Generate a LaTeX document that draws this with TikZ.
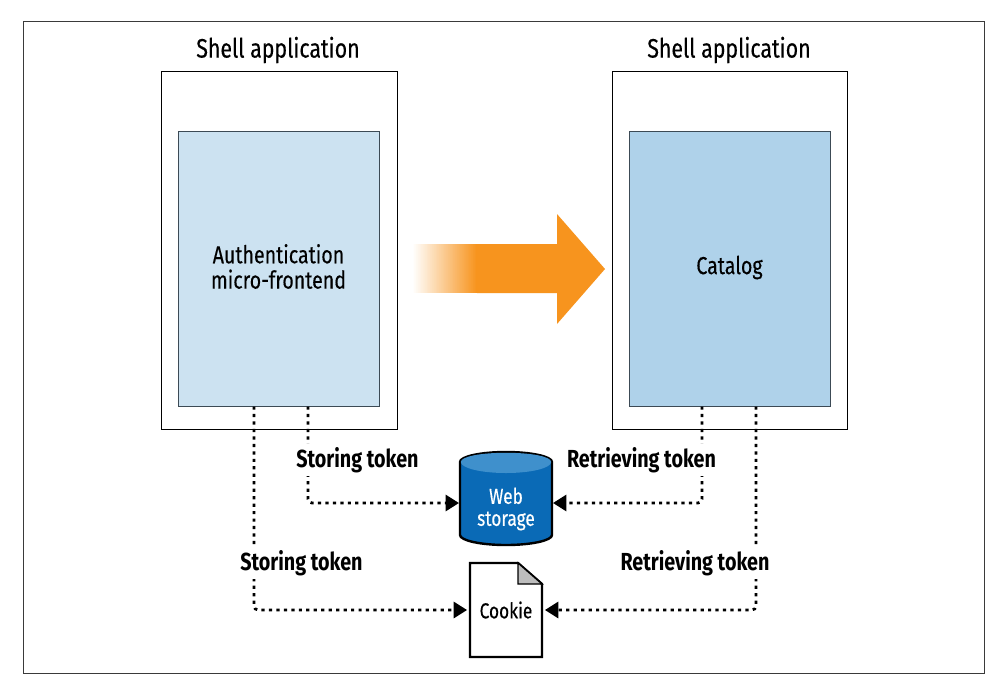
\documentclass[tikz,border=0pt]{standalone}
\usepackage{fontspec}
\setmainfont{Fira Sans}[FakeStretch=0.8,FakeBold=0.3,BoldFeatures={FakeBold=0}]
\usetikzlibrary{arrows.meta}
\definecolor{frameline}{HTML}{3A3A3A}
\definecolor{lightblue}{HTML}{CCE2F1}
\definecolor{midblue}{HTML}{AFD2EA}
\definecolor{boxedge}{HTML}{3C4A55}
\definecolor{cylbody}{HTML}{0A6AB6}
\definecolor{cyltop}{HTML}{3F90CC}
\definecolor{orangearrow}{HTML}{F7941E}
\definecolor{foldgray}{HTML}{BDBDBD}
\tikzset{
  x=0.75pt,y=-0.75pt,
  shellbox/.style={draw=black,line width=0.75pt,fill=white,anchor=north west,inner sep=0pt},
  innerbox/.style={draw=boxedge,line width=1pt,anchor=north west,inner sep=0pt},
  boxtext/.style={align=center,inner sep=0pt,font=\fontsize{18.4}{19}\selectfont},
  heading/.style={font=\fontsize{20}{22}\selectfont,inner sep=0pt},
  tokenlabel/.style={font=\fontsize{18.5}{19}\selectfont\bfseries,fill=white,inner sep=0pt,minimum height=24pt},
  dotted link/.style={line width=2.1pt,black,dash pattern=on 2.4pt off 3.2pt,rounded corners=3pt,-{Triangle[length=10pt,width=12pt,sep=0pt]}},
  hidden shape/.style={inner sep=0pt,align=center},
}
\begin{document}
\begin{tikzpicture}
\useasboundingbox (0,0) rectangle (1001,687);
\fill[white] (0,0) rectangle (1001,687);
\node[draw=frameline,line width=0.8pt,anchor=north west,inner sep=0pt,minimum width=721pt,minimum height=489pt] (frame) at (23,21) {};

\node[shellbox,minimum width=177pt,minimum height=268.5pt] (shellL) at (161,71) {};
\node[shellbox,minimum width=176.25pt,minimum height=268.5pt] (shellR) at (612,71) {};
\node[innerbox,fill=lightblue,minimum width=150.75pt,minimum height=206.25pt] (auth) at (178,131) {};
\node[innerbox,fill=midblue,minimum width=150.75pt,minimum height=206.25pt] (catalog) at (629,131) {};
\node[boxtext] (authtext) at (278.5,266.5) {Authentication\\micro-frontend};
\node[boxtext] (cattext) at (729.5,267.5) {Catalog};
\node[heading] (headL) at (278,50) {Shell application};
\node[heading] (headR) at (729,50) {Shell application};

% transition arrow
\foreach \i in {0,...,64}{
  \pgfmathtruncatemacro{\pct}{100*\i/64}
  \fill[orangearrow!\pct!white] ({412+\i},244) rectangle (478,293);
}
\fill[orangearrow] (477,244) -- (557,244) -- (557,214) -- (605,269) -- (557,324) -- (557,293) -- (477,293) -- cycle;

% web storage
\draw[fill=cylbody,draw=black,line width=1.8pt]
  (460,462) -- (460,535) .. controls (460,540.5) and (480.6,545) .. (506,545) .. controls (531.4,545) and (552,540.5) .. (552,535) -- (552,462)
  .. controls (552,456.5) and (531.4,452) .. (506,452) .. controls (480.6,452) and (460,456.5) .. (460,462) -- cycle;
\fill[cyltop] (460.8,462) .. controls (460.8,456.5) and (480.6,452.8) .. (506,452.8) .. controls (531.4,452.8) and (551.2,456.5) .. (551.2,462)
  .. controls (551.2,468) and (531.4,473) .. (506,473) .. controls (480.6,473) and (460.8,468) .. (460.8,462) -- cycle;
\node[hidden shape,text=white,font=\fontsize{16.2}{16.5}\selectfont,minimum width=69pt] (web) at (506,509) {Web\\storage};

% cookie
\draw[fill=white,draw=black,line width=1.8pt,line join=miter] (470,563) -- (518,563) -- (542,584) -- (542,657) -- (470,657) -- cycle;
\draw[fill=foldgray,draw=black,line width=1pt,line join=miter] (518,563) -- (518,584) -- (542,584) -- cycle;
\node[hidden shape,font=\fontsize{16.2}{19}\selectfont,minimum width=54pt,minimum height=70.5pt] (cookie) at (506,610) {Cookie};

% connectors
\coordinate (authA) at (254,406.5);
\coordinate (authB) at (308,406.5);
\coordinate (catA) at (702,406.5);
\coordinate (catB) at (756,406.5);
\coordinate (webL) at (459,503);
\coordinate (webR) at (553,503);
\draw[dotted link] (authB) |- (webL);
\draw[dotted link] (catA) |- (webR);
\draw[dotted link,shorten >=2pt] (authA) |- (cookie.west);
\draw[dotted link,shorten >=2pt] (catB) |- (cookie.east);

\node[tokenlabel] (l1) at (357.5,460) {Storing token};
\node[tokenlabel] (l2) at (641.5,460) {Retrieving token};
\node[tokenlabel] (l3) at (301.5,563) {Storing token};
\node[tokenlabel] (l4) at (695,563) {Retrieving token};
\end{tikzpicture}
\end{document}
